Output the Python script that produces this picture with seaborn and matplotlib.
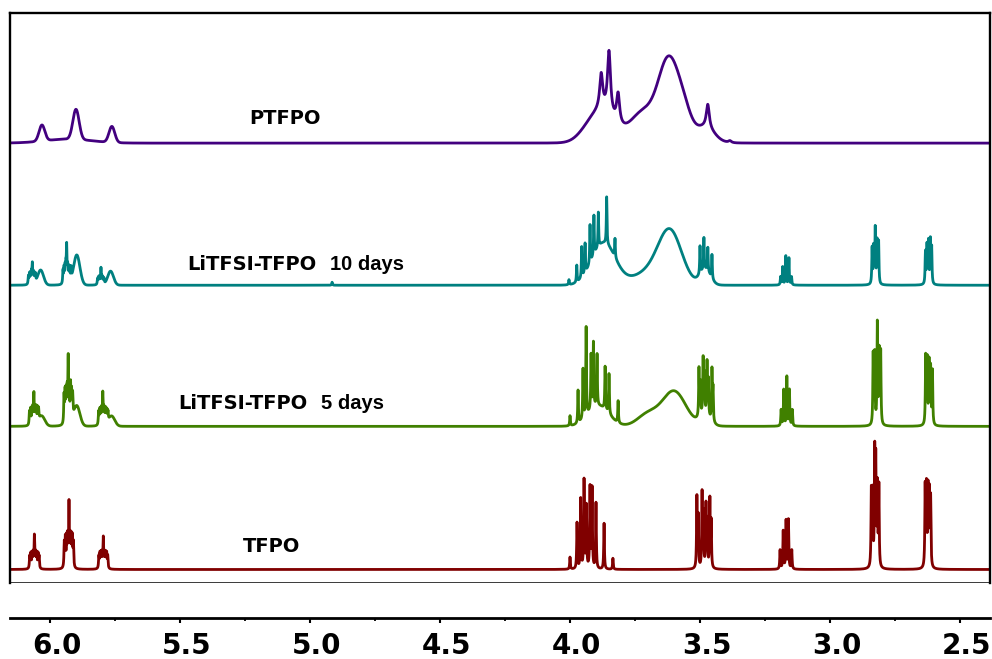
import numpy as np
import pandas as pd
import matplotlib
matplotlib.use("Agg")
import matplotlib.pyplot as plt
from matplotlib.ticker import AutoMinorLocator
from matplotlib.transforms import ScaledTranslation
import seaborn as sns

# ---------------- data ----------------
samples = ["TFPO", "LiTFSI-TFPO 5 days", "LiTFSI-TFPO 10 days", "PTFPO"]
colors = ["#800000", "#408000", "#008080", "#42007f"]
offsets = [13, 156, 297, 439]          # stacking offsets of the spectra

# sharp lines: chemical shift (ppm) and intensity
tfpo_line_ppm = [6.078, 6.074, 6.069, 6.065, 6.060, 6.055, 6.051, 6.046, 6.042,
                 5.945, 5.941, 5.936, 5.932, 5.927, 5.922, 5.918, 5.914, 5.910,
                 5.812, 5.808, 5.804, 5.800, 5.795, 5.790, 5.786, 5.782, 5.778,
                 4.000, 3.973, 3.959, 3.946, 3.937, 3.923, 3.915, 3.900, 3.869, 3.835,
                 3.512, 3.507, 3.492, 3.487, 3.477, 3.472, 3.462, 3.457,
                 3.192, 3.180, 3.169, 3.160, 3.147,
                 2.841, 2.836, 2.828, 2.824, 2.818, 2.812,
                 2.634, 2.629, 2.623, 2.618, 2.613]
tfpo_line_int = [12, 14, 14, 14, 32, 14, 14, 14, 12,
                 24, 28, 28, 28, 63, 28, 28, 28, 24,
                 12, 14, 14, 14, 30, 14, 14, 14, 12,
                 12, 46, 70, 88, 62, 81, 80, 66, 46, 11,
                 70, 50, 74, 52, 62, 45, 68, 45,
                 19, 38, 48, 49, 19,
                 76, 72, 110, 100, 78, 80,
                 80, 78, 76, 72, 68]
tfpo_band_ppm = []
tfpo_band_int = []
tfpo_band_sig = []

d5_line_ppm = [6.079, 6.075, 6.070, 6.066, 6.062, 6.057, 6.053, 6.048, 6.044,
               5.946, 5.942, 5.938, 5.934, 5.930, 5.926, 5.921, 5.917, 5.913,
               5.813, 5.809, 5.805, 5.801, 5.797, 5.793, 5.789, 5.785, 5.781, 5.777,
               4.000, 3.969, 3.950, 3.938, 3.919, 3.910, 3.896, 3.865, 3.850, 3.815,
               3.504, 3.499, 3.488, 3.483, 3.473, 3.468, 3.454, 3.450,
               3.188, 3.178, 3.166, 3.156, 3.145,
               2.834, 2.828, 2.818, 2.811, 2.805,
               2.632, 2.626, 2.619, 2.613, 2.606]
d5_line_int = [13, 15, 15, 15, 30, 15, 15, 13, 11,
               28, 30, 30, 30, 62, 30, 35, 26, 22,
               13, 14, 14, 14, 30, 14, 14, 13, 11, 9,
               10, 33, 50, 89, 55, 65, 52, 43, 40, 22,
               48, 32, 55, 38, 52, 35, 50, 32,
               16, 36, 49, 36, 16,
               70, 70, 100, 72, 72,
               68, 64, 62, 56, 54]
d5_band_ppm = [6.032, 5.897, 5.763, 3.89, 3.60, 3.70, 3.48]
d5_band_int = [10, 20, 10, 20, 35, 12, 10]
d5_band_sig = [0.012, 0.012, 0.012, 0.04, 0.045, 0.04, 0.02]

d10_line_ppm = [6.083, 6.079, 6.075, 6.071, 6.068, 6.064, 6.060, 6.056,
                5.950, 5.946, 5.942, 5.939, 5.936, 5.932, 5.928, 5.924, 5.919,
                5.817, 5.813, 5.809, 5.804, 5.800, 5.796, 5.792,
                4.915,
                4.004, 3.974, 3.955, 3.942, 3.923, 3.908, 3.891, 3.859, 3.827,
                3.500, 3.485, 3.470, 3.454,
                3.190, 3.182, 3.170, 3.158, 3.148,
                2.838, 2.832, 2.826, 2.819, 2.813,
                2.633, 2.627, 2.621, 2.614, 2.609]
d10_line_int = [8, 10, 10, 10, 19, 10, 9, 8,
                13, 15, 15, 15, 36, 15, 14, 13, 12,
                6, 7, 7, 16, 7, 6, 5,
                3,
                5, 17, 31, 30, 39, 40, 35, 47, 19,
                28, 32, 24, 24,
                8, 18, 29, 27, 8,
                36, 36, 55, 42, 42,
                32, 38, 42, 43, 36]
d10_band_ppm = [6.036, 5.897, 5.767, 3.87, 3.615, 3.70, 3.48]
d10_band_int = [15, 30, 14, 42, 52, 12, 15]
d10_band_sig = [0.011, 0.012, 0.011, 0.045, 0.045, 0.06, 0.02]

pt_line_ppm = [3.880, 3.850, 3.815, 3.470, 3.385]
pt_line_int = [35, 62, 30, 24, 2]
pt_band_ppm = [6.031, 5.900, 5.762, 5.93, 3.87, 3.93, 3.62, 3.72, 3.56, 3.48]
pt_band_int = [16, 30, 16, 4, 28, 10, 80, 30, 22, 15]
pt_band_sig = [0.011, 0.012, 0.011, 0.09, 0.045, 0.04, 0.04, 0.05, 0.03, 0.035]

line_hwhm = [0.0015, 0.0015, 0.0015, 0.007]

tick_values = [6.0, 5.5, 5.0, 4.5, 4.0, 3.5, 3.0, 2.5]
tick_labels = ["6.0", "5.5", "5.0", "4.5", "4.0", "3.5", "3.0", "2.5"]

# ---------------- build spectra ----------------
ppm = np.linspace(6.16, 2.38, 12601)


def spectrum(lp, li, bp, bi, bs, hw, off):
    y = np.full_like(ppm, float(off))
    for p, a in zip(lp, li):
        y += a / (1.0 + ((ppm - p) / hw) ** 2)
    for p, a, s in zip(bp, bi, bs):
        y += a * np.exp(-0.5 * ((ppm - p) / s) ** 2)
    return y


tables = [
    (tfpo_line_ppm, tfpo_line_int, tfpo_band_ppm, tfpo_band_int, tfpo_band_sig),
    (d5_line_ppm, d5_line_int, d5_band_ppm, d5_band_int, d5_band_sig),
    (d10_line_ppm, d10_line_int, d10_band_ppm, d10_band_int, d10_band_sig),
    (pt_line_ppm, pt_line_int, pt_band_ppm, pt_band_int, pt_band_sig),
]
frames = []
for name, tab, hw, off in zip(samples, tables, line_hwhm, offsets):
    frames.append(pd.DataFrame({"ppm": ppm,
                                "signal": spectrum(*tab, hw, off),
                                "sample": name}))
df = pd.concat(frames, ignore_index=True)

# ---------------- plot ----------------
sns.set_theme(style="white")
plt.rcParams["font.family"] = ["DejaVu Sans"]

W, H = 992, 659
fig = plt.figure(figsize=(W / 100, H / 100), dpi=100)
ax = fig.add_axes([10 / W, 1 - 582.5 / H, 980 / W, (582.5 - 13) / H])

sns.lineplot(data=df, x="ppm", y="signal", hue="sample", hue_order=samples,
             palette=colors, estimator=None, sort=False, linewidth=2.0,
             legend=False, ax=ax)

ax.set_xlim(6.1538, 2.3846)
ax.set_ylim(0, 569)
ax.set_yticks([])
ax.set_xlabel("")
ax.set_ylabel("")

for side in ["left", "right", "top"]:
    ax.spines[side].set_color("black")
    ax.spines[side].set_linewidth(1.7)
ax.spines["bottom"].set_color("black")
ax.spines["bottom"].set_linewidth(2.0)
ax.spines["bottom"].set_position(("outward", 25.2))
ax.axhline(0, color="black", lw=1.8, zorder=5)

ax.set_xticks(tick_values)
ax.set_xticklabels(tick_labels)
ax.xaxis.set_minor_locator(AutoMinorLocator(2))
ax.tick_params(axis="x", which="major", direction="out", length=3.5, width=1.5,
               color="black", bottom=True, pad=7, labelsize=20)
ax.tick_params(axis="x", which="minor", direction="out", length=2, width=1.3,
               color="black", bottom=True)
shift = ScaledTranslation(6.5 / 100, 0, fig.dpi_scale_trans)
for lab in ax.get_xticklabels():
    lab.set_fontweight("bold")
    lab.set_color("black")
    lab.set_transform(lab.get_transform() + shift)

bold = dict(fontweight="bold", color="black", va="baseline", ha="left")
ax.text(5.235, 458, "PTFPO", family="DejaVu Sans", fontsize=14, **bold)
ax.text(5.473, 312, "LiTFSI-TFPO", family="DejaVu Sans", fontsize=14, **bold)
ax.text(4.923, 312, "10 days", family="Liberation Sans", fontsize=14.5, **bold)
ax.text(5.508, 173, "LiTFSI-TFPO", family="DejaVu Sans", fontsize=14, **bold)
ax.text(4.958, 173, "5 days", family="Liberation Sans", fontsize=14.5, **bold)
ax.text(5.258, 30, "TFPO", family="DejaVu Sans", fontsize=14, **bold)

fig.savefig("out.png", dpi=100)
